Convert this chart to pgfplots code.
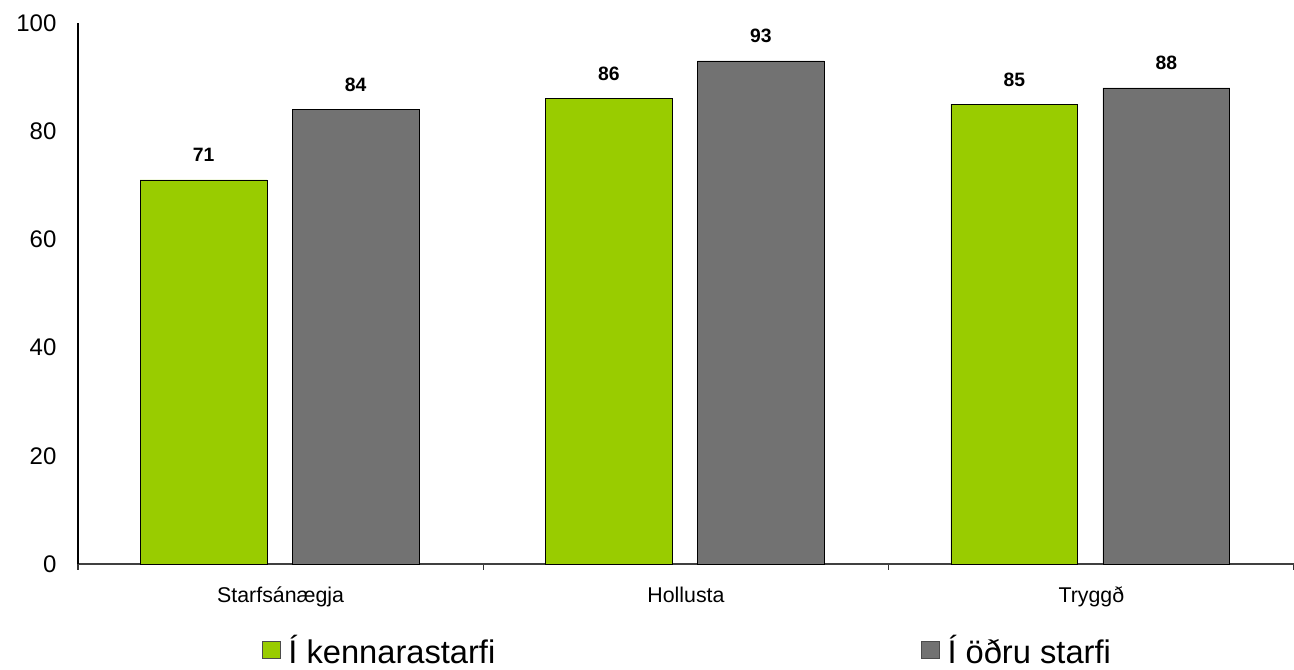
\documentclass[border=0pt]{standalone}
\usepackage{pgfplots}
\pgfplotsset{compat=1.18}
\usepackage{fontspec}
\setmainfont{Liberation Sans}
\definecolor{barGreen}{RGB}{153,204,0}
\definecolor{barGray}{RGB}{114,114,114}
\begin{document}
\begin{tikzpicture}
\useasboundingbox (-58.5pt,-79.5pt) rectangle (912pt,423pt);
\begin{axis}[
  at={(0,0)}, anchor=origin,
  scale only axis,
  width=912pt, height=405.75pt,
  xmin=0, xmax=3, ymin=0, ymax=100,
  axis lines*=left,
  axis line style={line width=0.8pt},
  x axis line style={draw=black!75},
  xtick={0,1,2,3},
  xticklabels={Starfsánægja,Hollusta,Tryggð},
  x tick label as interval,
  ytick={0,20,...,100},
  tick align=outside,
  major tick length=4.5pt,
  x tick style={black!80, line width=0.8pt},
  y tick style={draw=none},
  /pgf/number format/assume math mode=true,
  yticklabel style={font=\fontsize{18}{20}\selectfont, inner sep=0pt, xshift=-11.5pt},
  xticklabel style={font=\fontsize{16}{18}\selectfont, inner sep=0pt, anchor=base, yshift=-24.5pt},
  ybar, bar width=0.313,
  nodes near coords,
  every node near coord/.append style={font=\bfseries\fontsize{14.5}{16}\selectfont, inner sep=0pt, anchor=base, yshift=13.5pt},
  legend columns=2,
  legend style={draw=none, fill=none, inner sep=0pt,
    at={(axis description cs:0.1513,-0.159)}, anchor=west,
    font=\fontsize{24.5}{28}\selectfont,
    /tikz/every even column/.append style={column sep=317.5pt},
    /tikz/every odd column/.append style={column sep=4pt}},
  legend image code/.code={\draw[#1, draw=black!70, line width=0.6pt] (0pt,-6.5pt) rectangle (13pt,6.5pt);},
]
\addplot[fill=barGreen, draw=black, line width=0.5pt, bar shift=-0.19] coordinates {(0.5,71) (1.5,86) (2.5,85)};
\addplot[fill=barGray, draw=black, line width=0.5pt, bar shift=0.185] coordinates {(0.5,84) (1.5,93) (2.5,88)};
\legend{Í kennarastarfi, Í öðru starfi}
\end{axis}
\end{tikzpicture}
\end{document}
